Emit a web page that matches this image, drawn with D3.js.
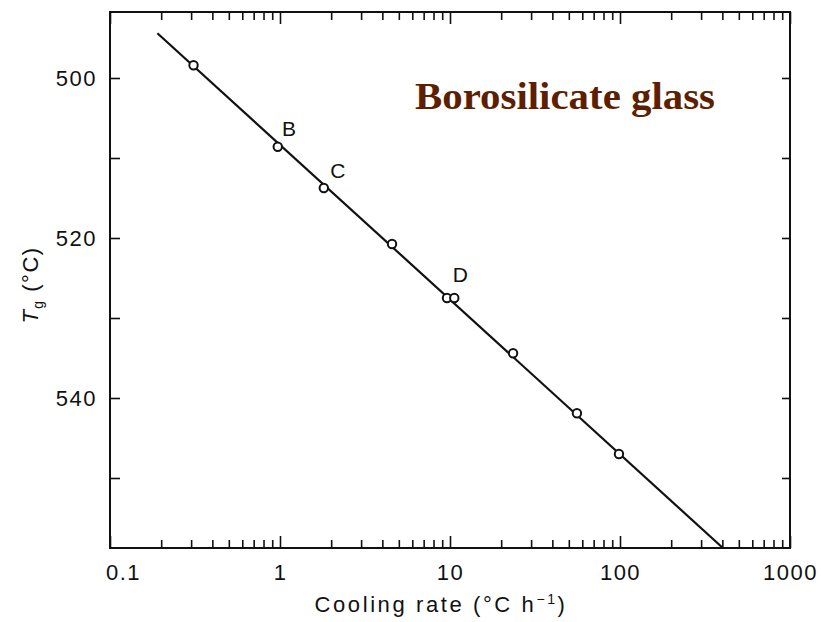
<!DOCTYPE html>
<html>
<head>
<meta charset="utf-8">
<script src="https://cdn.jsdelivr.net/npm/d3@7"></script>
<style>
  body { margin: 0; background: #fff; }
  svg text { font-family: "Liberation Sans", "DejaVu Sans", sans-serif; fill: #111; }
</style>
</head>
<body>
<svg id="chart" width="821" height="622"></svg>
<script>
// measured points (cooling rate, Tg)
const rate = [0.31, 0.97, 1.81, 4.56, 9.6, 10.6, 23.5, 55.8, 98.6];
const tg = [498.4, 508.6, 513.75, 520.75, 527.5, 527.5, 534.4, 541.9, 547.0];

// fitted line ends
const fitRate = [0.19, 403];
const fitTg = [494.4, 558.75];

// letter labels
const letters = ['B', 'C', 'D'];
const letterRate = [1.13, 2.19, 11.5];
const letterTg = [506.25, 511.5, 524.6];

const xMajor = [0.1, 1, 10, 100, 1000];
const xMajorLabels = ['0.1', '1', '10', '100', '1000'];
const yTicks = [500, 510, 520, 530, 540, 550];
const yLabels = [500, 520, 540];

const margin = {top: 12, bottom: 548, left: 110, right: 790};

const svg = d3.select('#chart');

const x = d3.scaleLog().domain([0.1, 1000]).range([margin.left, margin.right]);
const y = d3.scaleLinear().domain([491.75, 558.75]).range([margin.top, margin.bottom]);

// minor ticks 2..9 of each decade
const xMinor = [];
xMajor.slice(0, -1).forEach(d => {
  for (let k = 2; k <= 9; k++) xMinor.push(d * k);
});

function strip(g) {
  g.select('.domain').remove();
  g.selectAll('line').attr('stroke', '#111').attr('stroke-width', 1.6);
}

// bottom
svg.append('g')
  .attr('transform', `translate(0,${margin.bottom})`)
  .call(d3.axisBottom(x).tickValues(xMinor).tickSize(-8).tickFormat(''))
  .call(strip);
svg.append('g')
  .attr('class', 'x-major')
  .attr('transform', `translate(0,${margin.bottom})`)
  .call(d3.axisBottom(x).tickValues(xMajor).tickSize(-12).tickPadding(16)
    .tickFormat((d, i) => xMajorLabels[i]))
  .call(strip)
  .call(g => g.selectAll('text')
    .attr('font-size', 22)
    .attr('letter-spacing', 1.5)
    .attr('dx', (d, i) => i === 0 ? 13 : 0));

// top
svg.append('g')
  .attr('transform', `translate(0,${margin.top})`)
  .call(d3.axisTop(x).tickValues(xMinor).tickSize(-8).tickFormat(''))
  .call(strip);
svg.append('g')
  .attr('transform', `translate(0,${margin.top})`)
  .call(d3.axisTop(x).tickValues(xMajor).tickSize(-12).tickFormat(''))
  .call(strip);

// left
svg.append('g')
  .attr('transform', `translate(${margin.left},0)`)
  .call(d3.axisLeft(y).tickValues(yTicks).tickSize(-10).tickPadding(13)
    .tickFormat(d => yLabels.includes(d) ? d : ''))
  .call(strip)
  .call(g => g.selectAll('text').attr('font-size', 22).attr('letter-spacing', 1.5));

// right
svg.append('g')
  .attr('transform', `translate(${margin.right},0)`)
  .call(d3.axisRight(y).tickValues(yTicks).tickSize(-8).tickFormat(''))
  .call(strip);

// frame
svg.append('rect')
  .attr('x', margin.left)
  .attr('y', margin.top)
  .attr('width', margin.right - margin.left)
  .attr('height', margin.bottom - margin.top)
  .attr('fill', 'none')
  .attr('stroke', '#111')
  .attr('stroke-width', 2);

// fit line
svg.append('line')
  .attr('x1', x(fitRate[0])).attr('y1', y(fitTg[0]))
  .attr('x2', x(fitRate[1])).attr('y2', y(fitTg[1]))
  .attr('stroke', '#111')
  .attr('stroke-width', 2.2);

// points
svg.append('g')
  .selectAll('circle')
  .data(rate)
  .join('circle')
  .attr('cx', d => x(d))
  .attr('cy', (d, i) => y(tg[i]))
  .attr('r', 4.2)
  .attr('fill', '#fff')
  .attr('stroke', '#111')
  .attr('stroke-width', 2);

// letters
svg.append('g')
  .selectAll('text')
  .data(letters)
  .join('text')
  .attr('x', (d, i) => x(letterRate[i]))
  .attr('y', (d, i) => y(letterTg[i]))
  .attr('text-anchor', 'middle')
  .attr('dominant-baseline', 'central')
  .attr('font-size', 21)
  .text(d => d);

// axis titles
svg.append('text')
  .attr('x', 441)
  .attr('y', 612)
  .attr('text-anchor', 'middle')
  .attr('font-size', 22)
  .attr('letter-spacing', 2.6)
  .html('Cooling rate (°C h<tspan dy="-8" font-size="14">−1</tspan><tspan dy="8">)</tspan>');

svg.append('text')
  .attr('transform', 'translate(38,285) rotate(-90)')
  .attr('text-anchor', 'middle')
  .attr('font-size', 22)
  .attr('letter-spacing', 1.5)
  .html('<tspan font-style="italic">T</tspan><tspan dy="5" font-size="14">g</tspan><tspan dy="-5"> (°C)</tspan>');

// title
svg.append('text')
  .attr('x', 415)
  .attr('y', 109)
  .attr('textLength', 300)
  .attr('lengthAdjust', 'spacingAndGlyphs')
  .style('font-family', '"Liberation Serif", "Times New Roman", serif')
  .style('font-weight', 'bold')
  .style('font-size', '37px')
  .style('fill', '#5e1f00')
  .text('Borosilicate glass');
</script>
</body>
</html>
